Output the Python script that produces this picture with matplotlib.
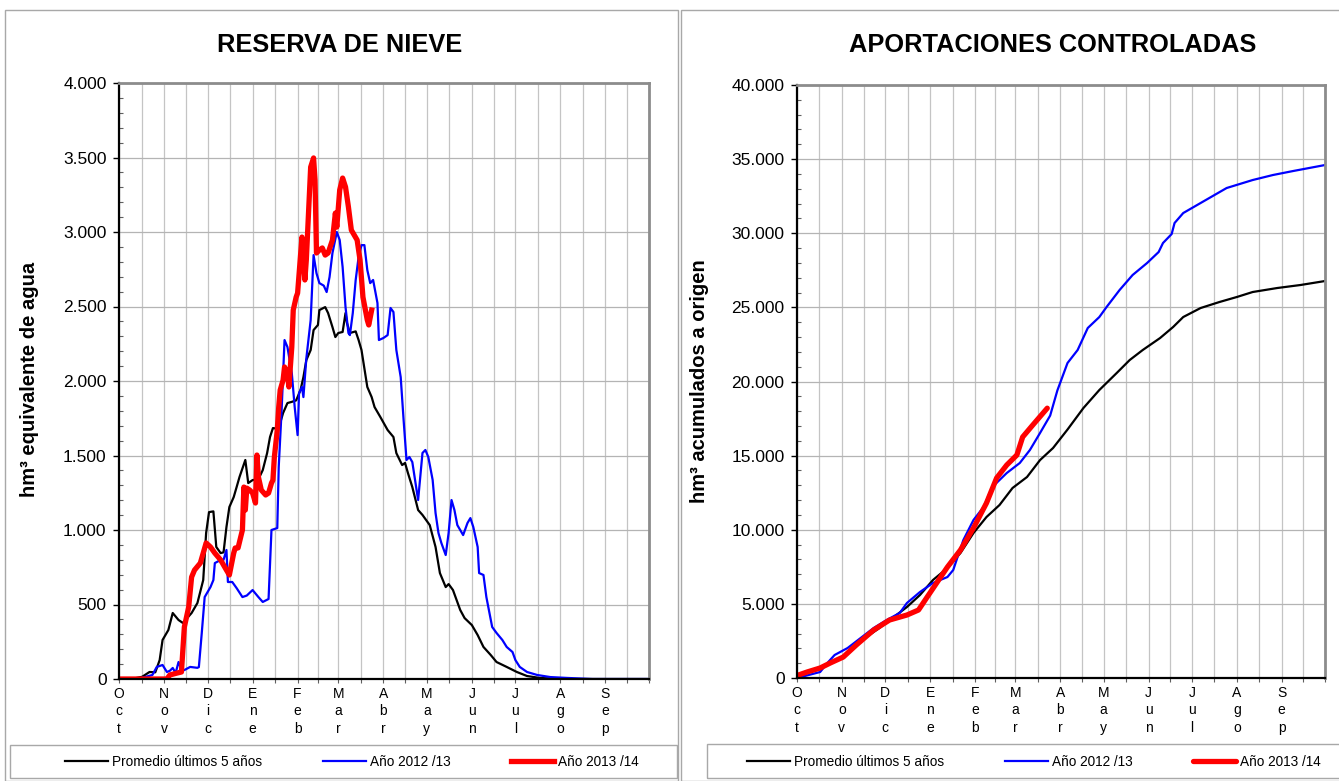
import matplotlib
matplotlib.use("Agg")
import matplotlib.pyplot as plt
from matplotlib.patches import Rectangle
from matplotlib.ticker import FuncFormatter, MultipleLocator, FixedLocator

plt.rcParams['font.family'] = ['Liberation Sans', 'DejaVu Sans']

# meses del año hidrológico (días desde el 1 de octubre)
meses = ["Oct", "Nov", "Dic", "Ene", "Feb", "Mar", "Abr", "May", "Jun", "Jul", "Ago", "Sep"]
inicio_mes = [0, 31, 61, 92, 123, 151, 182, 212, 243, 273, 304, 335, 365]

leyenda = ["Promedio últimos 5 años", "Año 2012 /13", "Año 2013 /14"]

# --- reserva de nieve (hm3) ---
nieve_dias_prom = [0, 11, 16, 21, 25, 28, 30, 34, 37, 41, 44, 50, 54, 58, 60, 62, 65, 67, 70, 72,
                   74, 76, 79, 81, 83, 87, 89, 92, 96, 99, 102, 104, 106, 109, 111, 113, 116, 119, 122, 125,
                   127, 129, 132, 134, 137, 138, 142, 144, 147, 149, 151, 154, 156, 157, 159, 163, 165, 167, 171, 174,
                   176, 180, 185, 189, 191, 195, 197, 199, 202, 206, 209, 214, 218, 221, 225, 227, 230, 235, 238, 243,
                   247, 251, 256, 260, 267, 274, 281, 290, 299, 311, 365]
nieve_prom = [0, 5, 15, 47, 45, 127, 262, 329, 443, 396, 376, 443, 510, 664, 980, 1120, 1125, 886, 845, 850,
              1020, 1154, 1221, 1288, 1356, 1470, 1315, 1335, 1340, 1402, 1516, 1624, 1684, 1680, 1718, 1785, 1852, 1860, 1870, 1939,
              2026, 2140, 2208, 2342, 2376, 2476, 2496, 2456, 2362, 2295, 2322, 2329, 2456, 2389, 2322, 2333, 2275, 2208, 1960, 1892,
              1825, 1758, 1671, 1624, 1516, 1436, 1450, 1382, 1288, 1134, 1101, 1033, 886, 711, 617, 637, 597, 463, 409, 362,
              295, 215, 161, 114, 81, 47, 20, 7, 3, 0, 0]

nieve_dias_1213 = [0, 13, 23, 26, 30, 33, 35, 37, 39, 41, 43, 45, 49, 54, 55, 57, 59, 63, 65, 66,
                   70, 72, 74, 75, 78, 81, 85, 88, 92, 96, 99, 103, 105, 109, 110, 112, 114, 116, 119, 121,
                   123, 124, 126, 127, 129, 132, 134, 136, 138, 141, 143, 145, 147, 150, 152, 154, 156, 158, 159, 161,
                   163, 165, 167, 169, 171, 173, 175, 178, 179, 182, 185, 187, 189, 191, 194, 196, 198, 200, 202, 206,
                   209, 211, 213, 216, 218, 220, 222, 225, 227, 229, 231, 233, 237, 240, 242, 244, 247, 248, 251, 253,
                   257, 260, 264, 267, 271, 273, 276, 281, 288, 297, 309, 326, 365]
nieve_1213 = [0, 0, 27, 81, 94, 47, 55, 74, 40, 114, 60, 60, 81, 75, 80, 309, 550, 617, 664, 778,
              799, 800, 866, 651, 651, 610, 550, 560, 597, 550, 517, 537, 1000, 1013, 1423, 1805, 2275, 2228, 2053, 1825,
              1637, 1919, 1960, 1892, 2150, 2409, 2845, 2724, 2657, 2640, 2597, 2698, 2859, 3000, 2946, 2765, 2496, 2322, 2308, 2456,
              2678, 2832, 2912, 2912, 2745, 2657, 2678, 2523, 2275, 2288, 2308, 2490, 2463, 2208, 2026, 1738, 1470, 1490, 1456, 1201,
              1517, 1537, 1490, 1336, 1114, 980, 913, 832, 980, 1201, 1134, 1033, 966, 1047, 1080, 1020, 886, 711, 698, 550,
              349, 309, 262, 215, 181, 127, 81, 47, 27, 13, 7, 0, 0]

nieve_dias_1314 = [0, 33, 35, 40, 43, 45, 48, 50, 52, 56, 58, 60, 63, 66, 70, 74, 76, 79, 80, 82,
                   85, 86, 87, 88, 90, 92, 94, 95, 96, 98, 101, 103, 105, 106, 107, 109, 110, 111, 113, 114,
                   116, 117, 119, 120, 122, 123, 126, 127, 128, 129, 132, 134, 135, 136, 138, 140, 142, 144, 147, 149,
                   150, 152, 154, 156, 158, 160, 164, 166, 168, 171, 172, 174]
nieve_1314 = [0, 0, 27, 40, 47, 349, 483, 684, 731, 778, 845, 913, 886, 845, 799, 731, 698, 845, 879, 880,
              1000, 1288, 1134, 1281, 1268, 1248, 1181, 1503, 1356, 1268, 1235, 1248, 1315, 1335, 1490, 1671, 1825, 1939, 2006, 2094,
              2053, 1960, 2228, 2476, 2563, 2590, 2966, 2832, 2678, 2812, 3436, 3497, 3349, 2859, 2879, 2893, 2845, 2859, 2946, 3127,
              3033, 3282, 3362, 3302, 3168, 3013, 2946, 2812, 2563, 2409, 2376, 2476]

# --- aportaciones acumuladas (hm3) ---
apor_dias_prom = [0, 11, 23, 32, 39, 48, 57, 66, 76, 85, 94, 104, 113, 122, 131, 140, 149, 159, 168, 177,
                  187, 198, 209, 221, 230, 239, 251, 260, 267, 279, 292, 304, 315, 332, 348, 365]
apor_prom = [0, 540, 1012, 1349, 2090, 2765, 3372, 4047, 4789, 5598, 6610, 7419, 8431, 9780, 10860, 11669, 12816, 13557, 14700, 15513,
             16760, 18211, 19425, 20572, 21449, 22124, 22933, 23675, 24349, 24956, 25361, 25698, 26036, 26306, 26508, 26777]

apor_dias_1213 = [0, 2, 16, 21, 26, 35, 44, 53, 62, 71, 76, 85, 94, 104, 108, 111, 115, 122, 129, 135,
                  145, 154, 161, 168, 175, 180, 187, 194, 201, 209, 214, 223, 232, 242, 250, 253, 259, 261, 267, 279,
                  297, 315, 329, 343, 365]
apor_1213 = [0, 50, 405, 1012, 1551, 2024, 2698, 3372, 3912, 4384, 5059, 5800, 6408, 6812, 7285, 8161, 9308, 10657, 11534, 12883,
             13827, 14502, 15379, 16525, 17700, 19400, 21247, 22124, 23608, 24349, 25024, 26171, 27183, 27992, 28734, 29341, 29948, 30690, 31364, 32039,
             33051, 33590, 33928, 34198, 34602]

apor_dias_1314 = [0, 1, 7, 16, 23, 32, 41, 53, 64, 76, 84, 90, 97, 104, 113, 122, 131, 138, 145, 152, 156, 163, 173]
apor_1314 = [0, 200, 405, 675, 1012, 1416, 2226, 3238, 3912, 4249, 4587, 5463, 6475, 7487, 8634, 10118, 11804, 13490, 14367, 15041,
             16256, 17065, 18200]

W, H = 1339, 781


def fmt_miles(v, pos):
    return "{:,.0f}".format(v).replace(",", ".")


def preparar(ax, ymax, mayor, menor):
    ax.set_xlim(0, 365)
    ax.set_ylim(0, ymax)
    medios = [(a + b) / 2 for a, b in zip(inicio_mes[:-1], inicio_mes[1:])]
    ax.xaxis.set_major_locator(FixedLocator(inicio_mes[:-1]))
    ax.xaxis.set_minor_locator(FixedLocator(medios + [365]))
    ax.set_xticklabels(["\n".join(m) for m in meses], fontsize=10, linespacing=1.33)
    ax.yaxis.set_major_locator(MultipleLocator(mayor))
    ax.yaxis.set_minor_locator(MultipleLocator(menor))
    ax.yaxis.set_major_formatter(FuncFormatter(fmt_miles))
    ax.tick_params(axis='y', which='major', direction='out', length=4, width=1, labelsize=12.5, pad=5)
    ax.tick_params(axis='y', which='minor', direction='in', length=3, width=0.8, color='#606060')
    ax.tick_params(axis='x', which='both', direction='out', length=3, width=0.8, color='#606060', pad=2.5)
    ax.grid(True, which='major', axis='y', color='#b4b4b4', lw=0.9)
    ax.grid(True, which='both', axis='x', color='#c4c4c4', lw=0.9)
    ax.set_axisbelow(True)
    for s in ['left', 'bottom']:
        ax.spines[s].set_color('black')
        ax.spines[s].set_linewidth(1.6)
    for s in ['top', 'right']:
        ax.spines[s].set_color('#8c8c8c')
        ax.spines[s].set_linewidth(2)


fig = plt.figure(figsize=(W / 100, H / 100), dpi=100)

ax1 = fig.add_axes([119 / W, 1 - 679 / H, 530 / W, 596 / H])
l1, = ax1.plot(nieve_dias_prom, nieve_prom, color='black', lw=1.6)
l2, = ax1.plot(nieve_dias_1213, nieve_1213, color='#0000ff', lw=1.6)
l3, = ax1.plot(nieve_dias_1314, nieve_1314, color='#ff0000', lw=3.8, solid_joinstyle='round')
preparar(ax1, 4000, 500, 100)

ax2 = fig.add_axes([797 / W, 1 - 678 / H, 528 / W, 593 / H])
r1, = ax2.plot(apor_dias_prom, apor_prom, color='black', lw=1.6)
r2, = ax2.plot(apor_dias_1213, apor_1213, color='#0000ff', lw=1.6)
r3, = ax2.plot(apor_dias_1314, apor_1314, color='#ff0000', lw=3.8, solid_capstyle='round')
preparar(ax2, 40000, 5000, 1000)

# titulos y ejes
fig.text(340 / W, 1 - 45 / H, "RESERVA DE NIEVE", ha='center', va='center', fontsize=18.3, weight='bold')
fig.text(1053 / W, 1 - 45 / H, "APORTACIONES CONTROLADAS", ha='center', va='center', fontsize=18.3, weight='bold')
fig.text(30 / W, 1 - 379 / H, "hm³ equivalente de agua", rotation=90, ha='center', va='center',
         fontsize=14.5, weight='bold')
fig.text(700 / W, 1 - 381 / H, "hm³ acumulados a origen", rotation=90, ha='center', va='center',
         fontsize=14.5, weight='bold')

# marcos de los paneles y de las leyendas
gris = '#a8a8a8'
for x0, y0, x1, y1 in [(5, 10, 678, 781), (681, 10, 1345, 781), (10, 745, 677, 778), (707, 744, 1345, 778)]:
    fig.patches.append(Rectangle((x0 / W, 1 - y1 / H), (x1 - x0) / W, (y1 - y0) / H,
                                 transform=fig.transFigure, fill=False, edgecolor=gris, lw=1))

fig.legend([l1, l2, l3], leyenda, loc='center', bbox_to_anchor=(352 / W, 1 - 762 / H), ncol=3,
           frameon=False, fontsize=9.8, handlelength=3.15, handletextpad=0.3, columnspacing=4.45)
fig.legend([r1, r2, r3], leyenda, loc='center', bbox_to_anchor=(1034 / W, 1 - 762 / H), ncol=3,
           frameon=False, fontsize=9.8, handlelength=3.15, handletextpad=0.3, columnspacing=4.45)

fig.savefig("out.png", dpi=100)
